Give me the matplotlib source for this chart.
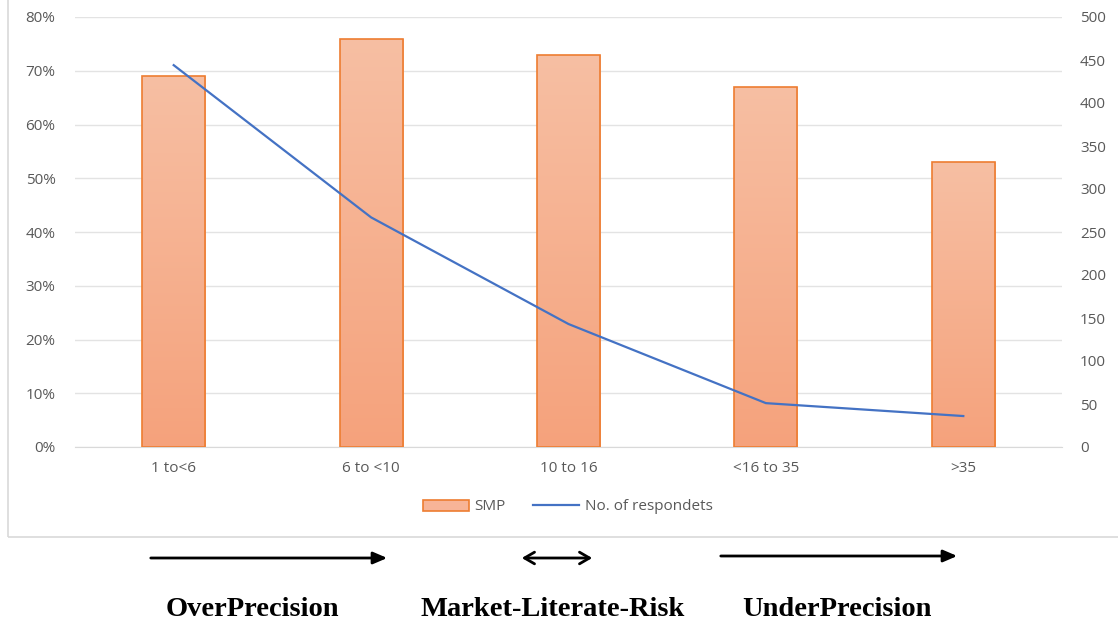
import numpy as np
import matplotlib.pyplot as plt
from matplotlib.colors import LinearSegmentedColormap
from matplotlib.patches import Rectangle, FancyArrowPatch

# Age groups (years of trading experience) and results
categories = ['1 to<6', '6 to <10', '10 to 16', '<16 to 35', '>35']
smp = [69, 76, 73, 67, 53]                 # percent
respondents = [444, 267, 143, 51, 36]      # count

pct_ticks = [0, 10, 20, 30, 40, 50, 60, 70, 80]
count_ticks = [0, 50, 100, 150, 200, 250, 300, 350, 400, 450, 500]

zones = ['OverPrecision', 'Market-Literate-Risk', 'UnderPrecision']

W, H = 1118, 626
fig = plt.figure(figsize=(W / 100, H / 100), dpi=100)
fig.patch.set_facecolor('white')

# outer chart frame (only left and bottom edges visible)
frame = Rectangle((8 / W, 1 - 537 / H), 1.2, 1.2, transform=fig.transFigure,
                  fill=False, edgecolor='#D9D9D9', lw=1.2)
fig.add_artist(frame)

ax = fig.add_axes([75 / W, 1 - 447 / H, (1062 - 75) / W, (447 - 17) / H])
ax2 = ax.twinx()

x = np.arange(len(categories))
bars = ax.bar(x, smp, width=0.32, facecolor='none', edgecolor='#ED7D31',
              lw=1.2, zorder=3)

# vertical gradient fill inside each bar
cmap = LinearSegmentedColormap.from_list('smp', ['#F5A27C', '#F7BFA3'])
grad = np.linspace(0, 1, 256).reshape(-1, 1)
for b in bars:
    bx, by = b.get_x(), b.get_y()
    bw, bh = b.get_width(), b.get_height()
    im = ax.imshow(grad, cmap=cmap, origin='lower', aspect='auto',
                   extent=[bx, bx + bw, by, by + bh], zorder=2)
    im.set_clip_path(b)

ax.set_xlim(-0.5, len(categories) - 0.5)
ax.set_ylim(0, 80)
ax.set_yticks(pct_ticks)
ax.set_yticklabels([f'{t}%' for t in pct_ticks])
ax.set_xticks(x)
ax.set_xticklabels(categories)
ax.grid(axis='y', color='#E3E3E3', lw=1)
ax.set_axisbelow(True)

ax2.plot(x, respondents, color='#4472C4', lw=1.6, zorder=4)
ax2.set_ylim(0, 500)
ax2.set_yticks(count_ticks)

for a in (ax, ax2):
    for s in a.spines.values():
        s.set_visible(False)
    a.tick_params(length=0, colors='#595959', labelsize=11)
    for lbl in a.get_xticklabels() + a.get_yticklabels():
        lbl.set_family('Open Sans')
ax.spines['bottom'].set_visible(True)
ax.spines['bottom'].set_color('#D9D9D9')
ax.tick_params(axis='x', pad=10)
ax.tick_params(axis='y', pad=14)
ax2.tick_params(axis='y', pad=13)
ax.set_xlim(-0.5, len(categories) - 0.5)

# legend
h1 = Rectangle((0, 0), 1, 1, facecolor='#F7B497', edgecolor='#ED7D31', lw=1.2)
h2 = plt.Line2D([0], [0], color='#4472C4', lw=1.6)
fig.legend([h1, h2], ['SMP', 'No. of respondets'], loc='center',
           bbox_to_anchor=(568 / W, 1 - 507 / H), ncol=2, frameon=False,
           prop={'family': 'Open Sans', 'size': 11}, labelcolor='#595959',
           handlelength=3, handletextpad=0.4, columnspacing=1.8)

# arrows under the chart
arrow_kw = dict(arrowstyle='-|>,head_length=0.7,head_width=0.3', lw=2.0,
                color='black')
fig.add_artist(FancyArrowPatch(
    (148 / W, 1 - 558 / H), (390 / W, 1 - 558 / H),
    transform=fig.transFigure, mutation_scale=12, **arrow_kw))
fig.add_artist(FancyArrowPatch(
    (519 / W, 1 - 558 / H), (595 / W, 1 - 558 / H),
    transform=fig.transFigure, mutation_scale=12,
    arrowstyle='<->,head_length=0.6,head_width=0.35', lw=2.0, color='black'))
fig.add_artist(FancyArrowPatch(
    (718 / W, 1 - 556 / H), (960 / W, 1 - 556 / H),
    transform=fig.transFigure, mutation_scale=12, **arrow_kw))

for label, cx in zip(zones, [252, 553, 837]):
    fig.text(cx / W, 1 - 609 / H, label, ha='center', va='center',
             family='Liberation Serif', fontweight='bold', fontsize=20.5)

fig.savefig('out.png', dpi=100)
